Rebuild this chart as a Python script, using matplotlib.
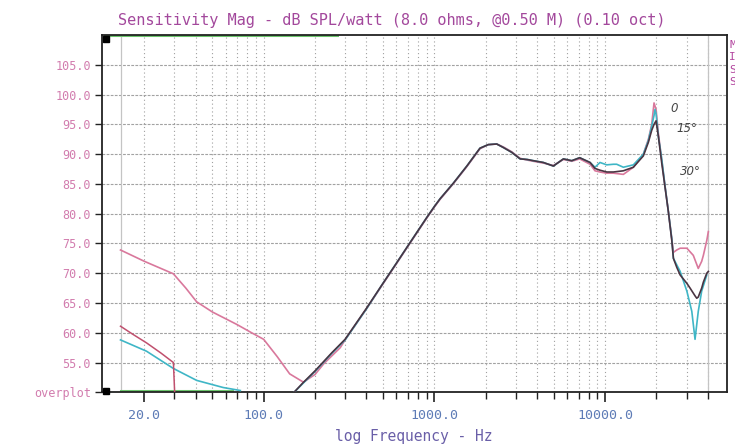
import matplotlib

matplotlib.use("Agg")
import matplotlib.pyplot as plt
import numpy as np

# readings (Hz, dB SPL/W)
dark_low_f = [14.5, 17.0, 20.6, 25.0, 29.6, 30.2]
dark_low_db = [61.1, 59.8, 58.3, 56.6, 55.0, 49.0]
cyan_low_f = [14.5, 20.6, 29.6, 40.5, 58.0, 73.0]
cyan_low_db = [58.8, 56.9, 54.0, 52.0, 50.8, 50.3]

dark_f = [145, 170, 200, 250, 300, 400, 500, 600, 700, 800, 900, 1000, 1080, 1290, 1550,
          1850, 2070, 2320, 2540, 2840, 3180, 3500, 3800, 4350, 4980, 5700, 6380, 7100, 8170,
          8730, 9340, 10230, 11200, 12800, 14650, 16760, 17940, 18760, 19360, 19900, 20520,
          21480, 22440, 23500, 24600, 25140, 26300, 27540, 30140, 31480, 33660, 34440, 35160,
          36820, 37660, 39440, 40280]
dark_db = [49.5, 51.6, 53.6, 56.6, 58.9, 64.1, 68.3, 71.7, 74.6, 77.1, 79.3, 81.2, 82.5, 85.1, 88.0,
           91.0, 91.6, 91.7, 91.1, 90.3, 89.2, 89.1, 88.9, 88.6, 88.0, 89.2, 88.9, 89.4, 88.6,
           87.6, 87.3, 87.0, 87.0, 87.2, 87.8, 89.7, 92.0, 94.0, 95.0, 95.6, 93.0,
           88.5, 84.5, 80.3, 75.5, 72.5, 71.0, 69.7, 68.3, 67.5, 66.2, 65.8, 66.0,
           67.5, 68.5, 70.0, 70.3]

pink_f = [14.5, 20, 29.6, 35, 40.5, 50, 69.6, 85, 100, 120, 142, 171, 200, 225, 281, 300, 400,
          500, 600, 700, 800, 900, 1000, 1080, 1290, 1550, 1850, 2070, 2320, 2540, 2840, 3180,
          3500, 3800, 4350, 4980, 5700, 6380, 7100, 8170, 8730, 9340, 10230, 11200, 12800,
          14650, 16760, 17940, 18760, 19360, 19900, 20520, 21480, 22440, 23500, 24600, 25140,
          26300, 27540, 30140, 32880, 35160, 36820, 37660, 39440, 40280]
pink_db = [73.9, 72.0, 69.9, 67.5, 65.2, 63.5, 61.4, 60.0, 58.9, 56.0, 53.1, 51.7, 53.0, 54.8,
           57.5, 58.8, 64.0, 68.2, 71.6, 74.5, 77.0, 79.2, 81.1, 82.4, 85.0, 87.9, 90.9, 91.6,
           91.7, 91.2, 90.4, 89.3, 89.0, 88.8, 88.5, 88.1, 89.1, 88.8, 89.2, 88.3, 87.2, 87.0,
           86.8, 86.8, 86.6, 87.8, 90.0, 92.5, 95.0, 98.6, 97.5, 93.5, 89.0, 84.7, 80.3, 75.8,
           73.5, 73.9, 74.2, 74.2, 73.0, 70.8, 72.0, 73.0, 75.5, 77.0]

cyan_f = [145, 170, 200, 250, 300, 400, 500, 600, 700, 800, 900, 1000, 1080, 1290, 1550,
          1850, 2070, 2320, 2540, 2840, 3180, 3500, 3800, 4350, 4980, 5700, 6380, 7100, 8170,
          8730, 9340, 10230, 11200, 11700, 12800, 14650, 16760, 17940, 18760, 19360, 19620,
          19900, 20520, 21480, 22440, 23500, 24600, 25140, 27540, 30140, 32220, 33660, 35160,
          36820, 39440]
cyan_db = [49.5, 51.5, 53.5, 56.5, 58.8, 64.0, 68.3, 71.7, 74.6, 77.1, 79.3, 81.2, 82.5, 85.1, 88.0,
           91.0, 91.6, 91.7, 91.1, 90.3, 89.2, 89.1, 88.9, 88.6, 88.0, 89.2, 88.9, 89.4, 88.6,
           87.8, 88.6, 88.2, 88.3, 88.3, 87.8, 88.2, 90.0, 92.3, 94.7, 96.5, 97.5,
           96.8, 93.0, 89.2, 84.7, 80.3, 75.8, 72.5, 70.3, 67.0, 63.6, 58.9, 63.6,
           67.0, 69.7]

green_top_f = [11.8, 269]
green_bot_f = [14.5, 65]

x_major = [20, 100, 1000, 10000]
x_major_labels = ["20.0", "100.0", "1000.0", "10000.0"]
x_minor = [30, 40, 50, 60, 70, 80, 90, 200, 300, 400, 500, 600, 700, 800, 900,
           2000, 3000, 4000, 5000, 6000, 7000, 8000, 9000, 20000, 30000, 40000]
y_ticks = [50, 55, 60, 65, 70, 75, 80, 85, 90, 95, 100, 105]
y_labels = ["overplot", "55.0", "60.0", "65.0", "70.0", "75.0", "80.0", "85.0",
            "90.0", "95.0", "100.0", "105.0"]

notes = [("0", 24000, 97.6), ("15°", 26300, 94.3), ("30°", 27500, 87.0)]

C_DARK = "#4a3442"
C_PINK = "#d9789c"
C_CYAN = "#3fb6c6"
C_GREEN = "#6cc46c"
MONO = "DejaVu Sans Mono"

fig = plt.figure(figsize=(7.35, 4.46), dpi=100)
ax = fig.add_axes([0.1388, 0.1204, 0.850, 0.801])
ax.set_xscale("log")
ax.set_xlim(11.3, 51640)
ax.set_ylim(50, 110)

# grid
for y in y_ticks[1:]:
    ax.axhline(y, color="#a2a2a2", lw=0.8, ls=(0, (2.5, 1.2)), zorder=1)
for x in x_major + x_minor:
    ax.axvline(x, color="#a0a0a0", lw=0.8, ls=(0, (1, 2.5)), zorder=1)
for x in (14.5, 40000):
    ax.axvline(x, color="#c4c4c4", lw=0.9, zorder=1)

# traces
ax.plot(green_top_f, [110, 110], color=C_GREEN, lw=2.2, zorder=2)
ax.plot(green_bot_f, [50.2, 50.2], color=C_GREEN, lw=2.2, zorder=2)
ax.plot(pink_f, pink_db, color=C_PINK, lw=1.2, zorder=3)
ax.plot(cyan_low_f, cyan_low_db, color=C_CYAN, lw=1.2, zorder=3)
ax.plot(cyan_f, cyan_db, color=C_CYAN, lw=1.2, zorder=3)
ax.plot(dark_low_f, dark_low_db, color="#c0506e", lw=1.1, zorder=4)
ax.plot(dark_f, dark_db, color=C_DARK, lw=1.2, zorder=4)

for txt, fx, fy in notes:
    ax.text(fx, fy, txt, fontsize=8.5, color="#444444", style="italic", ha="left", va="center")

# corner squares
ax.plot([11.9, 11.9], [109.4, 50.3], "s", color="k", ms=5, clip_on=False, zorder=6)

# axes styling
for s in ax.spines.values():
    s.set_color("#222222")
    s.set_linewidth(1.3)
ax.set_xticks(x_major)
ax.set_xticklabels(x_major_labels)
ax.set_xticks(x_minor, minor=True)
ax.set_xticklabels([], minor=True)
ax.tick_params(axis="x", which="major", length=7, width=1.2, pad=5, colors="#222222",
               labelcolor="#5d7bb6", labelsize=9.5)
ax.tick_params(axis="x", which="minor", length=5, width=1.0, colors="#222222")
ax.set_yticks(y_ticks)
ax.set_yticklabels(y_labels)
ax.tick_params(axis="y", length=5, width=1.0, pad=3, colors="#222222",
               labelcolor="#d27cae", labelsize=8.5)
for lbl in ax.get_xticklabels() + ax.get_yticklabels():
    lbl.set_family(MONO)

fig.text(414 / 735, 1 - 436 / 446, "log Frequency - Hz", family=MONO, fontsize=10.5,
         color="#6a5fa8", ha="center", va="center")
fig.text(392 / 735, 1 - 20 / 446, "Sensitivity Mag - dB SPL/watt (8.0 ohms, @0.50 M) (0.10 oct)",
         family=MONO, fontsize=11, color="#a3489c", ha="center", va="center")
fig.text(729 / 735, 1 - 40 / 446, "M\nI\nS\nS", family=MONO, fontsize=8, color="#b2449e",
         ha="left", va="top", linespacing=1.3)

fig.savefig("out.png", dpi=100)
